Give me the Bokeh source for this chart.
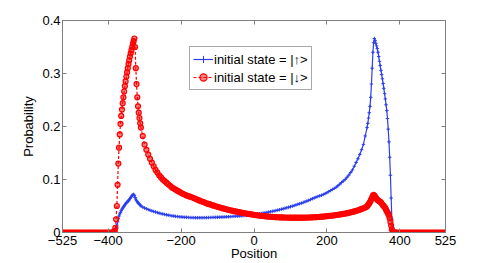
from bokeh.plotting import figure
from bokeh.models import (Range1d, FixedTicker, LinearAxis, Legend, LegendItem)
from bokeh.embed import file_html
from bokeh.resources import INLINE

# ---------------- data ----------------
# position grid (coarse in the flat parts, fine around the peaks)
pos_a = list(range(-525, -389, 5))
pos_b = list(range(-388, -309, 2))
pos_c = list(range(-305, 306, 5))
pos_d = list(range(310, 389, 2))
pos_e = list(range(390, 526, 5))

zeros_a = [0.0, 0.0, 0.0, 0.0, 0.0, 0.0, 0.0, 0.0, 0.0, 0.0, 0.0, 0.0, 0.0, 0.0,
           0.0, 0.0, 0.0, 0.0, 0.0, 0.0, 0.0, 0.0, 0.0, 0.0, 0.0, 0.0, 0.0, 0.0]
zeros_e = [0.0, 0.0, 0.0, 0.0, 0.0, 0.0, 0.0, 0.0, 0.0, 0.0, 0.0, 0.0, 0.0, 0.0,
           0.0, 0.0, 0.0, 0.0, 0.0, 0.0, 0.0, 0.0, 0.0, 0.0, 0.0, 0.0, 0.0, 0.0]

# initial state |up>  (blue)
up_b = [0.0, 0.0, 0.0, 0.0005, 0.002, 0.007, 0.014, 0.02, 0.026, 0.031,
        0.035, 0.038, 0.041, 0.044, 0.046, 0.048, 0.05, 0.052, 0.054, 0.056,
        0.057, 0.059, 0.06, 0.062, 0.064, 0.066, 0.068, 0.07, 0.071, 0.072,
        0.07, 0.066, 0.063, 0.06, 0.058, 0.056, 0.055, 0.053, 0.052, 0.05]
up_c = [0.048, 0.0462, 0.0447, 0.0433, 0.042, 0.0408, 0.0397, 0.0386, 0.0376, 0.0366,
        0.0357, 0.0349, 0.0341, 0.0334, 0.0327, 0.0321, 0.0315, 0.031, 0.0305, 0.0301,
        0.0297, 0.0294, 0.0291, 0.0288, 0.0286, 0.0284, 0.0282, 0.0281, 0.028, 0.0279,
        0.0279, 0.0279, 0.0279, 0.028, 0.028, 0.0281, 0.0282, 0.0283, 0.0284, 0.0285,
        0.0286, 0.0287, 0.0289, 0.029, 0.0292, 0.0294, 0.0296, 0.0298, 0.03, 0.0302,
        0.0305, 0.0307, 0.031, 0.0312, 0.0315, 0.0318, 0.0321, 0.0324, 0.0327, 0.033,
        0.0333, 0.0336, 0.0341, 0.0347, 0.0353, 0.0359, 0.0365, 0.0372, 0.0378, 0.0385,
        0.0392, 0.0399, 0.0406, 0.0414, 0.0422, 0.043, 0.0439, 0.0448, 0.0457, 0.0467,
        0.0477, 0.0487, 0.0497, 0.0508, 0.052, 0.0532, 0.0543, 0.0554, 0.0567, 0.058,
        0.0593, 0.0607, 0.0622, 0.0637, 0.0652, 0.0667, 0.0679, 0.0691, 0.0703, 0.0718,
        0.0734, 0.0752, 0.0772, 0.0792, 0.0812, 0.0832, 0.0853, 0.0882, 0.0912, 0.0942,
        0.0972, 0.1002, 0.1042, 0.1082, 0.1132, 0.1182, 0.1252, 0.1322, 0.1392, 0.1472,
        0.1562, 0.1662, 0.1822]
up_d = [0.198, 0.206, 0.216, 0.226, 0.238, 0.255, 0.28, 0.31, 0.34, 0.358,
        0.366, 0.362, 0.357, 0.352, 0.347, 0.34, 0.332, 0.323, 0.315, 0.306,
        0.298, 0.29, 0.281, 0.272, 0.262, 0.252, 0.241, 0.23, 0.215, 0.195,
        0.171, 0.142, 0.108, 0.065, 0.025, 0.004, 0.001, 0.0, 0.0, 0.0]

# initial state |down>  (red)
down_b = [0.0, 0.0, 0.001, 0.003, 0.009, 0.025, 0.05, 0.09, 0.13, 0.16,
          0.185, 0.205, 0.22, 0.232, 0.244, 0.255, 0.266, 0.276, 0.285, 0.294,
          0.302, 0.31, 0.318, 0.325, 0.332, 0.338, 0.344, 0.35, 0.356, 0.361,
          0.366, 0.35, 0.31, 0.28, 0.255, 0.238, 0.226, 0.216, 0.206, 0.198]
down_c = [0.182, 0.166, 0.156, 0.147, 0.139, 0.132, 0.125, 0.118, 0.113, 0.108,
          0.104, 0.1, 0.097, 0.094, 0.091, 0.088, 0.085, 0.083, 0.081, 0.079,
          0.077, 0.075, 0.073, 0.0715, 0.07, 0.0688, 0.0676, 0.0665, 0.065, 0.0635,
          0.062, 0.0605, 0.059, 0.0578, 0.0565, 0.055, 0.054, 0.053, 0.0518, 0.0506,
          0.0495, 0.0485, 0.0475, 0.0465, 0.0455, 0.0446, 0.0437, 0.0428, 0.042, 0.0412,
          0.0404, 0.0397, 0.039, 0.0383, 0.0376, 0.037, 0.0363, 0.0357, 0.0351, 0.0345,
          0.034, 0.0334, 0.0329, 0.0324, 0.0319, 0.0315, 0.0311, 0.0307, 0.0303, 0.03,
          0.0297, 0.0294, 0.0292, 0.029, 0.0288, 0.0286, 0.0285, 0.0284, 0.0283, 0.0282,
          0.0281, 0.028, 0.028, 0.0279, 0.0279, 0.0279, 0.0279, 0.028, 0.028, 0.0281,
          0.0282, 0.0283, 0.0284, 0.0286, 0.0288, 0.029, 0.0292, 0.0295, 0.0298, 0.0301,
          0.0304, 0.0308, 0.0312, 0.0316, 0.032, 0.0325, 0.033, 0.0335, 0.034, 0.0346,
          0.0352, 0.0358, 0.0365, 0.0372, 0.038, 0.0389, 0.0398, 0.0408, 0.0419, 0.0431,
          0.0444, 0.0458, 0.0474]
down_d = [0.049, 0.051, 0.053, 0.055, 0.057, 0.06, 0.063, 0.066, 0.069, 0.071,
          0.07, 0.068, 0.066, 0.064, 0.062, 0.061, 0.06, 0.059, 0.058, 0.057,
          0.055, 0.053, 0.051, 0.05, 0.048, 0.046, 0.043, 0.04, 0.038, 0.035,
          0.032, 0.027, 0.02, 0.013, 0.006, 0.002, 0.0005, 0.0, 0.0, 0.0]

x_ticks = [-525, -400, -200, 0, 200, 400, 525]
x_tick_labels = ["\u2212525", "\u2212400", "\u2212200", "0", "200", "400", "525"]
y_ticks = [0, 0.1, 0.2, 0.3, 0.4]
y_tick_labels = ["0", "0.1", "0.2", "0.3", "0.4"]
label_up = "initial state = |\u2191>"
label_down = "initial state = |\u2193>"

positions = pos_a + pos_b + pos_c + pos_d + pos_e
prob_up = zeros_a + up_b + up_c + up_d + zeros_e
prob_down = zeros_a + down_b + down_c + down_d + zeros_e
assert len(positions) == len(prob_up) == len(prob_down)

# ---------------- figure ----------------
FONT = "Liberation Sans"
AX = "#7f7f7f"
BLUE = "#2b3ff0"
RED = "#ff0000"

p = figure(width=491, height=263, output_backend="svg", toolbar_location=None,
           x_range=Range1d(-525, 525), y_range=Range1d(0, 0.4),
           min_border_left=62, min_border_right=46, min_border_top=20,
           min_border_bottom=31)
p.background_fill_color = "white"
p.border_fill_color = "white"
p.outline_line_color = AX
p.outline_line_width = 1
p.grid.visible = False

for ax in (p.xaxis[0], p.yaxis[0]):
    ax.axis_line_color = AX
    ax.major_tick_line_color = AX
    ax.major_tick_in = 4
    ax.major_tick_out = 0
    ax.minor_tick_line_color = None
    ax.major_label_text_font = FONT
    ax.major_label_text_font_size = "13px"
    ax.major_label_text_color = "black"
    ax.axis_label_text_font = FONT
    ax.axis_label_text_font_size = "13px"
    ax.axis_label_text_font_style = "normal"
    ax.axis_label_text_color = "black"

p.xaxis[0].ticker = FixedTicker(ticks=x_ticks)
p.xaxis[0].major_label_overrides = {t: s for t, s in zip(x_ticks, x_tick_labels)}
p.xaxis[0].major_label_standoff = 3
p.xaxis[0].axis_label = "Position"
p.xaxis[0].axis_label_standoff = -2
p.yaxis[0].ticker = FixedTicker(ticks=y_ticks)
p.yaxis[0].major_label_overrides = {t: s for t, s in zip(y_ticks, y_tick_labels)}
p.yaxis[0].major_label_standoff = 2
p.yaxis[0].axis_label = "Probability"
p.yaxis[0].axis_label_standoff = 3

# box ticks on top and right (no labels)
top = LinearAxis(ticker=FixedTicker(ticks=x_ticks), axis_line_color=None,
                 major_tick_line_color=AX, major_tick_in=4, major_tick_out=0,
                 minor_tick_line_color=None, major_label_standoff=0,
                 major_label_overrides={t: "" for t in x_ticks})
right = LinearAxis(ticker=FixedTicker(ticks=y_ticks), axis_line_color=None,
                   major_tick_line_color=AX, major_tick_in=4, major_tick_out=0,
                   minor_tick_line_color=None, major_label_standoff=0,
                   major_label_overrides={t: "" for t in y_ticks})
p.add_layout(top, "above")
p.add_layout(right, "right")

# series
bl = p.line(positions, prob_up, line_color=BLUE, line_width=1.2)
bs = p.scatter(positions, prob_up, marker="cross", size=3.5, line_color=BLUE, line_width=1)
rl = p.line(positions, prob_down, line_color=RED, line_width=1.2, line_dash="3 2")
rs = p.scatter(positions, prob_down, marker="circle", size=5, line_color=RED,
               line_width=1.2, fill_color=RED, fill_alpha=0.5)

legend = Legend(items=[LegendItem(label=label_up, renderers=[bl, bs]),
                       LegendItem(label=label_down, renderers=[rl, rs])],
                location=(127, 142))
legend.border_line_color = "#555555"
legend.border_line_width = 1
legend.background_fill_color = "white"
legend.background_fill_alpha = 1
legend.label_text_font = FONT
legend.label_text_font_size = "13px"
legend.label_text_color = "black"
legend.padding = 3
legend.spacing = 0
legend.margin = 0
legend.label_height = 18
legend.glyph_height = 18
legend.glyph_width = 20
legend.label_standoff = 1
p.add_layout(legend, "center")

open("out.html", "w").write(file_html(p, INLINE))
